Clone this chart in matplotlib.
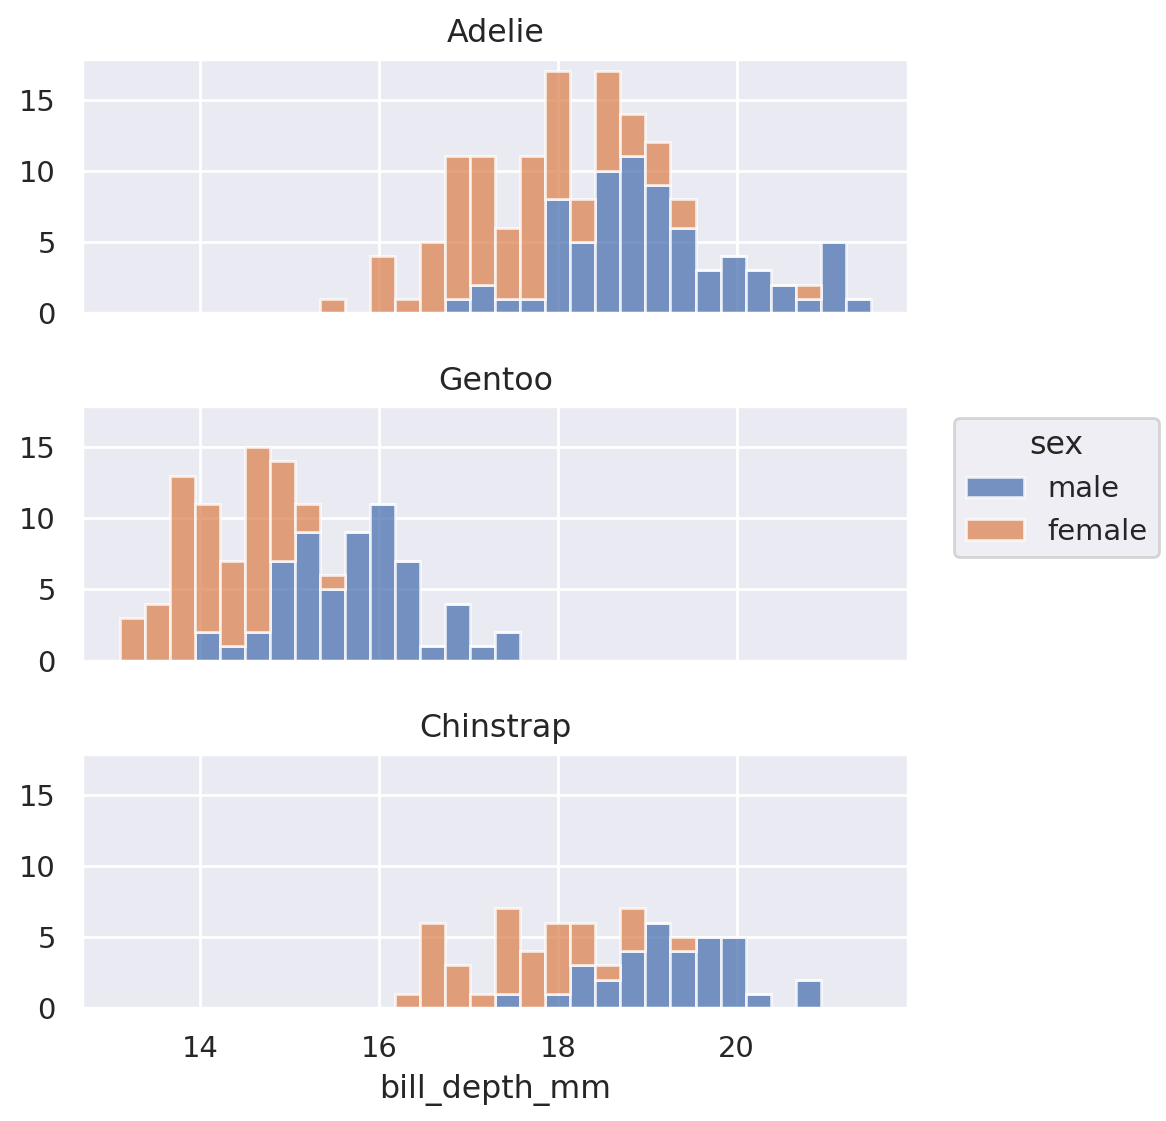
import numpy as np
import matplotlib
matplotlib.use("Agg")
import matplotlib.pyplot as plt
import seaborn as sns
from matplotlib.patches import Patch

# 30 bins over bill_depth_mm range
bin_lo, bin_hi, n_bins = 13.1, 21.5, 30
species = ["Adelie", "Gentoo", "Chinstrap"]

# counts per bin (stacked: male bottom, female on top)
adelie_male = [0, 0, 0, 0, 0, 0, 0, 0, 0, 0, 0, 0, 0, 1, 2, 1, 1, 8, 5, 10,
               11, 9, 6, 3, 4, 3, 2, 1, 5, 1]
adelie_female = [0, 0, 0, 0, 0, 0, 0, 0, 1, 0, 4, 1, 5, 10, 9, 5, 10, 9, 3, 7,
                 3, 3, 2, 0, 0, 0, 0, 1, 0, 0]
gentoo_male = [0, 0, 0, 2, 1, 2, 7, 9, 5, 9, 11, 7, 1, 4, 1, 2, 0, 0, 0, 0,
               0, 0, 0, 0, 0, 0, 0, 0, 0, 0]
gentoo_female = [3, 4, 13, 9, 6, 13, 7, 2, 1, 0, 0, 0, 0, 0, 0, 0, 0, 0, 0, 0,
                 0, 0, 0, 0, 0, 0, 0, 0, 0, 0]
chinstrap_male = [0, 0, 0, 0, 0, 0, 0, 0, 0, 0, 0, 0, 0, 0, 0, 1, 0, 1, 3, 2,
                  4, 6, 4, 5, 5, 1, 0, 2, 0, 0]
chinstrap_female = [0, 0, 0, 0, 0, 0, 0, 0, 0, 0, 0, 1, 6, 3, 1, 6, 4, 5, 3, 1,
                    3, 0, 1, 0, 0, 0, 0, 0, 0, 0]

counts = {
    "Adelie": (adelie_male, adelie_female),
    "Gentoo": (gentoo_male, gentoo_female),
    "Chinstrap": (chinstrap_male, chinstrap_female),
}

sns.set_theme(font_scale=0.95)
blue, orange = sns.color_palette("deep")[:2]

edges = np.linspace(bin_lo, bin_hi, n_bins + 1)
widths = np.diff(edges)

fig, axes = plt.subplots(3, 1, sharex=True, sharey=True, figsize=(5.83, 5.605), dpi=200)
fig.subplots_adjust(left=0.0705, right=0.779, top=0.9474, bottom=0.1007, hspace=0.3676)

for ax, sp in zip(axes, species):
    male, female = counts[sp]
    male = np.array(male)
    female = np.array(female)
    ax.bar(edges[:-1], male, width=widths, align="edge", color=blue,
           alpha=0.75, edgecolor="white", linewidth=1)
    ax.bar(edges[:-1], female, width=widths, bottom=male, align="edge", color=orange,
           alpha=0.75, edgecolor="white", linewidth=1)
    ax.set_title(sp)
    ax.set_ylabel("")

axes[0].set_xlim(bin_lo - 0.05 * (bin_hi - bin_lo), bin_hi + 0.05 * (bin_hi - bin_lo))
axes[0].set_ylim(0, 17.85)
axes[0].set_yticks([0, 5, 10, 15])
axes[0].set_xticks([14, 16, 18, 20])
axes[-1].set_xlabel("bill_depth_mm")

handles = [Patch(facecolor=blue, alpha=0.75, edgecolor="white"),
           Patch(facecolor=orange, alpha=0.75, edgecolor="white")]
fig.legend(handles, ["male", "female"], title="sex", loc="center left",
           bbox_to_anchor=(0.806, 0.565), frameon=True)

fig.savefig("out.png")
